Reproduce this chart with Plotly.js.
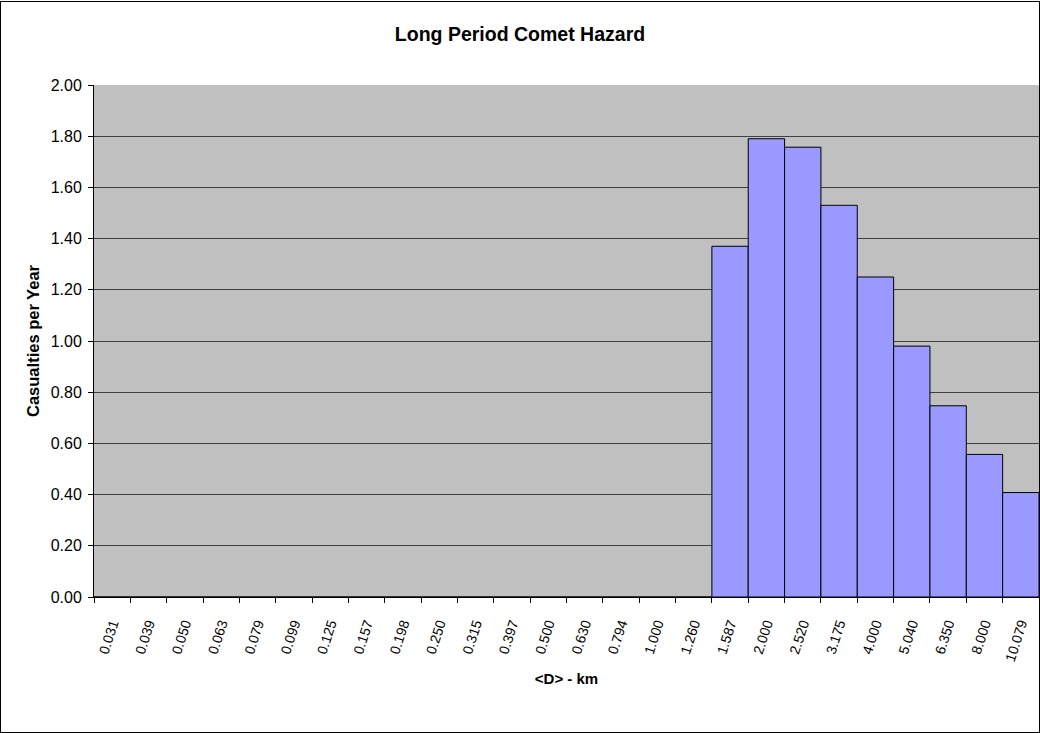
<!DOCTYPE html>
<html>
<head>
<meta charset="utf-8">
<script src="https://cdn.plot.ly/plotly-3.0.1.min.js"></script>
<style>
html,body{margin:0;padding:0;background:#fff;}
#chart{width:1038px;height:730px;border:1px solid #000;margin-top:1px;}
</style>
</head>
<body>
<div id="chart"></div>
<script>
const diameters = ["0.031","0.039","0.050","0.063","0.079","0.099","0.125","0.157","0.198","0.250","0.315","0.397","0.500","0.630","0.794","1.000","1.260","1.587","2.000","2.520","3.175","4.000","5.040","6.350","8.000","10.079"];
const casualties = [0,0,0,0,0,0,0,0,0,0,0,0,0,0,0,0,0,1.37,1.79,1.757,1.53,1.25,0.98,0.747,0.557,0.408];
const yTickVals = [0,0.2,0.4,0.6,0.8,1.0,1.2,1.4,1.6,1.8,2.0];

const font = "Liberation Sans, Arial, sans-serif";
const trace = {
  type: "bar",
  x: diameters,
  y: casualties,
  marker: {color: "#9999FF", line: {color: "#000000", width: 1}},
  hoverinfo: "x+y"
};
const layout = {
  width: 1038, height: 730,
  margin: {l: 93, r: 0, t: 83, b: 135},
  paper_bgcolor: "#ffffff",
  plot_bgcolor: "#C0C0C0",
  bargap: 0,
  showlegend: false,
  font: {family: font, color: "#000"},
  title: {text: "<b>Long Period Comet Hazard</b>", font: {family: font, size: 19.5, color: "#000"}, x: 0.5, xanchor: "center", y: 0.956, yanchor: "middle"},
  xaxis: {
    type: "category",
    tickangle: -72,
    ticks: "outside", tickson: "boundaries", ticklen: 5, tickcolor: "#000",
    ticklabelstandoff: 12,
    showline: true, linecolor: "#000", linewidth: 1,
    showgrid: false,
    tickfont: {family: font, size: 14, color: "#000"},
    title: {text: "<b>&lt;D&gt; - km</b>", font: {family: font, size: 15, color: "#000"}, standoff: 10},
    automargin: false
  },
  yaxis: {
    range: [0, 2],
    tickvals: yTickVals,
    tickformat: ".2f",
    ticks: "outside", ticklen: 5, tickcolor: "#000",
    ticklabelstandoff: 3,
    showline: true, linecolor: "#000", linewidth: 1,
    showgrid: true, gridcolor: "#404040", gridwidth: 1,
    zeroline: false,
    tickfont: {family: font, size: 16, color: "#000"},
    title: {text: "<b>Casualties per Year</b>", font: {family: font, size: 16.5, color: "#000"}, standoff: 6},
    automargin: false
  }
};
Plotly.newPlot("chart", [trace], layout, {displayModeBar: false, staticPlot: true});
</script>
</body>
</html>
